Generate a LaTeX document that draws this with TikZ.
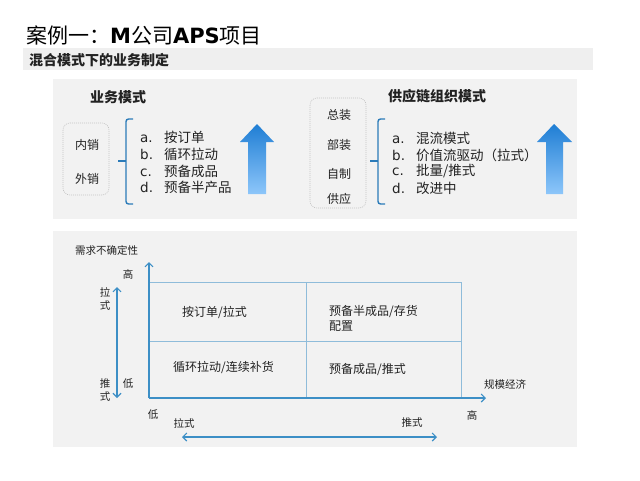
\documentclass[tikz,border=0pt]{standalone}
\usepackage{fontspec}
\setmainfont{Noto Sans CJK SC}
\newfontfamily\lat{DejaVu Sans}
\usetikzlibrary{arrows.meta}
\definecolor{panel}{HTML}{F2F2F2}
\definecolor{band}{HTML}{EFEFEF}
\definecolor{brc}{HTML}{2B7BB9}
\definecolor{axc}{HTML}{3D8FC6}
\definecolor{gridc}{HTML}{8FBCDA}
\definecolor{arrtop}{HTML}{1F7ED4}
\definecolor{arrbot}{HTML}{8DC6FA}
\definecolor{txt}{HTML}{222222}
\definecolor{dashc}{HTML}{C4C4C4}
\tikzset{
  lbl/.style={inner sep=0pt, text=txt, font=\fontsize{10.5}{12}\selectfont},
  cell/.style={inner sep=0pt, text=txt, font=\fontsize{12}{15}\selectfont, anchor=west, align=left},
  item/.style={inner sep=0pt, text=txt, anchor=west, font=\fontsize{13.5}{16}\selectfont},
  head/.style={inner sep=0pt, text=txt, font=\bfseries\fontsize{14}{16}\selectfont},
  sidebox/.style={draw=dashc, dash pattern=on 1pt off 1pt, rounded corners=7pt, line width=0.6pt},
  sidetxt/.style={inner sep=0pt, text=txt, font=\fontsize{12}{14}\selectfont},
  bracestyle/.style={draw=brc, line width=1.4pt, rounded corners=2.5pt},
  axis/.style={draw=axc, line width=1.1pt, -{Straight Barb[length=4pt,width=8pt]}},
  dbl/.style={draw=axc, line width=1.1pt, {Straight Barb[length=4pt,width=8pt]}-{Straight Barb[length=4pt,width=8pt]}},
  gridline/.style={draw=gridc, line width=0.8pt},
  bigarrow/.style={top color=arrtop, bottom color=arrbot, draw=none}
}
\newcommand{\lt}[1]{\makebox[24pt][l]{\lat #1}}
\begin{document}
\begin{tikzpicture}[x=1pt,y=-1pt]
\useasboundingbox (0,0) rectangle (640,480);
\fill[white] (0,0) rectangle (640,480);
% title
\node[anchor=west, inner sep=0pt, text=black] (title) at (26,35)
  {\fontsize{21}{24}\selectfont 案例一：{\lat\bfseries M}公司{\lat\bfseries APS}项目};
% band
\fill[band] (23,48) rectangle (593,70);
\node[anchor=west, inner sep=0pt, text=txt, font=\bfseries\fontsize{14}{16}\selectfont] (band) at (29,60) {混合模式下的业务制定};
% top panel
\fill[panel] (53,79) rectangle (577,219);
\node[head] (h1) at (118,97) {业务模式};
\node[head] (h2) at (437,96) {供应链组织模式};
% left dashed box
\draw[sidebox] (63,123) rectangle (109,195);
\node[sidetxt] (nx) at (87,145) {内销};
\node[sidetxt] (wx) at (87,179) {外销};
% left brace
\draw[bracestyle] (133,119) -- (126,119) -- (126,204) -- (133,204);
\draw[draw=brc, line width=1.4pt] (126,161) -- (118,161);
\node[item] (la) at (140,137) {\lt{a.}按订单};
\node[item] (lb) at (140,154) {\lt{b.}循环拉动};
\node[item] (lc) at (140,171) {\lt{c.}预备成品};
\node[item] (ld) at (140,187) {\lt{d.}预备半产品};
% left big arrow
\shade[bigarrow] (257,124) -- (274,142) -- (266,142) -- (266,194) -- (248,194) -- (248,142) -- (240,142) -- cycle;
% right dashed box
\draw[sidebox] (310,98) rectangle (366,208);
\node[sidetxt] (zz) at (339,115) {总装};
\node[sidetxt] (bz) at (339,145) {部装};
\node[sidetxt] (zh) at (339,174) {自制};
\node[sidetxt] (gy) at (339,199) {供应};
% right brace
\draw[bracestyle] (385,119) -- (378,119) -- (378,204) -- (385,204);
\draw[draw=brc, line width=1.4pt] (378,161) -- (370,161);
\node[item] (ra) at (392,138) {\lt{a.}混流模式};
\node[item] (rb) at (392,155) {\lt{b.}价值流驱动（拉式）};
\node[item] (rc) at (392,171) {\lt{c.}批量/推式};
\node[item] (rd) at (392,188) {\lt{d.}改进中};
% right big arrow
\shade[bigarrow] (554,124) -- (572,142) -- (563,142) -- (563,194) -- (546,194) -- (546,142) -- (537,142) -- cycle;
% bottom panel
\fill[panel] (53,231) rectangle (577,447);
\node[lbl, anchor=west] (dem) at (75,250) {需求不确定性};
% grid
\coordinate (o) at (149,398);
\coordinate (ytop) at (149,262);
\coordinate (xend) at (486,398);
\coordinate (gtr) at (461,282);
\draw[gridline] (149,282) -- (461,282) -- (461,398);
\draw[gridline] (306,282) -- (306,398);
\draw[gridline] (149,341) -- (461,341);
\draw[axis] (o) -- (ytop);
\draw[axis] (o) -- (xend);
\node[lbl] (yhi) at (128,274) {高};
\node[lbl] (ylo) at (128,384) {低};
\node[lbl] (xlo) at (153,415) {低};
\node[lbl] (xhi) at (472,415) {高};
\node[lbl, anchor=west] (scale) at (484,384) {规模经济};
% left double arrow
\coordinate (lt) at (117,287);
\coordinate (lb) at (117,398);
\draw[dbl] (lt) -- (lb);
\node[lbl, align=center] (pull1) at (105,299) {拉\\[1.2pt]式};
\node[lbl, align=center] (push1) at (105,390) {推\\[1.2pt]式};
% bottom double arrow
\coordinate (bl) at (182,437);
\coordinate (br) at (437,437);
\draw[dbl] (bl) -- (br);
\node[lbl] (pull2) at (184,423) {拉式};
\node[lbl] (push2) at (412,423) {推式};
% cells
\node[cell] (c1) at (182,312) {按订单/拉式};
\node[cell] (c2) at (173,367) {循环拉动/连续补货};
\node[cell, anchor=north west] (c3) at (329,305) {预备半成品/存货\\配置};
\node[cell] (c4) at (329,370) {预备成品/推式};
\end{tikzpicture}
\end{document}
